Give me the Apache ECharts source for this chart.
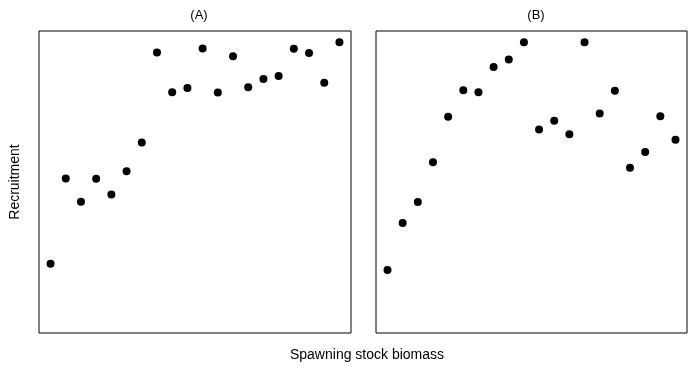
<!DOCTYPE html>
<html>
<head>
<meta charset="utf-8">
<script src="https://cdn.jsdelivr.net/npm/echarts@6/dist/echarts.min.js"></script>
<style>html,body{margin:0;padding:0;background:#fff;}#c{width:690px;height:369px;}</style>
</head>
<body>
<div id="c"></div>
<script>
var years = [1,2,3,4,5,6,7,8,9,10,11,12,13,14,15,16,17,18,19,20];
var recruitA = [22.9,51.2,43.5,51.1,45.9,53.6,63.1,92.9,79.7,81.1,94.2,79.6,91.6,81.4,84.1,85.1,94.1,92.7,82.9,96.3];
var recruitB = [20.9,36.4,43.4,56.5,71.6,80.4,79.7,88.1,90.6,96.3,67.4,70.3,65.8,96.3,72.7,80.2,54.7,59.9,71.8,64.0];
var panelTitles = ['(A)', '(B)'];
var xLabel = 'Spawning stock biomass';
var yLabel = 'Recruitment';

function pairs(xs, ys){ return xs.map(function(x,i){ return [x, ys[i]]; }); }

var font = '"Liberation Sans", Arial, sans-serif';
var chart = echarts.init(document.getElementById('c'), null, {renderer:'canvas'});
function xAxis(idx){
  return {type:'value', gridIndex:idx, min:0.24, max:20.76, show:true,
    axisLine:{show:false}, axisTick:{show:false}, axisLabel:{show:false}, splitLine:{show:false}};
}
function yAxis(idx){
  return {type:'value', gridIndex:idx, min:0, max:100, show:true,
    axisLine:{show:false}, axisTick:{show:false}, axisLabel:{show:false}, splitLine:{show:false}};
}
chart.setOption({
  animation:false,
  backgroundColor:'#fff',
  grid:[
    {left:39, top:31, width:312, height:302, show:true, borderColor:'#000', borderWidth:1, backgroundColor:'transparent'},
    {left:376, top:31, width:311, height:302, show:true, borderColor:'#000', borderWidth:1, backgroundColor:'transparent'}
  ],
  xAxis:[xAxis(0), xAxis(1)],
  yAxis:[yAxis(0), yAxis(1)],
  graphic:[
    {type:'text', x:199, y:15, style:{text:panelTitles[0], font:'13px '+font, fill:'#000', align:'center', verticalAlign:'middle'}},
    {type:'text', x:536, y:15, style:{text:panelTitles[1], font:'13px '+font, fill:'#000', align:'center', verticalAlign:'middle'}},
    {type:'text', x:367, y:355, style:{text:xLabel, font:'14px '+font, fill:'#000', align:'center', verticalAlign:'middle'}},
    {type:'text', x:15, y:182, rotation:Math.PI/2, style:{text:yLabel, font:'14px '+font, fill:'#000', align:'center', verticalAlign:'middle'}}
  ],
  series:[
    {type:'scatter', xAxisIndex:0, yAxisIndex:0, data:pairs(years, recruitA), symbol:'circle', symbolSize:8, itemStyle:{color:'#000', opacity:1}},
    {type:'scatter', xAxisIndex:1, yAxisIndex:1, data:pairs(years, recruitB), symbol:'circle', symbolSize:8, itemStyle:{color:'#000', opacity:1}}
  ]
});
</script>
</body>
</html>
